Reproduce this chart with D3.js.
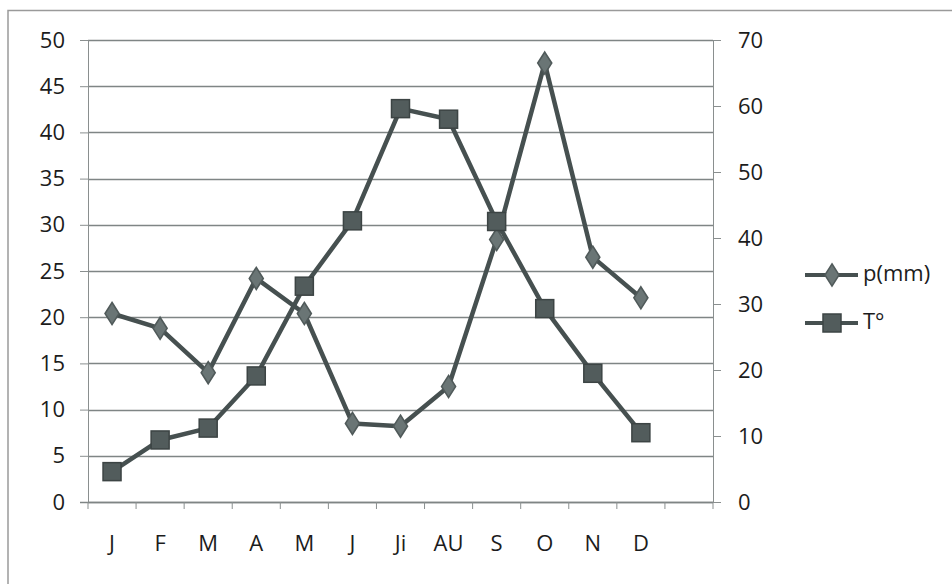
<!DOCTYPE html>
<html><head><meta charset="utf-8">
<script src="https://cdn.jsdelivr.net/npm/d3@7"></script>
<style>
html,body{margin:0;padding:0;background:#fff;}
svg{display:block;}
text{font-family:"Open Sans","Liberation Sans",sans-serif;fill:#1c1c1c;}
</style></head>
<body>
<svg id="chart" width="952" height="584"></svg>
<script>
const categories = ["J","F","M","A","M","J","Ji","AU","S","O","N","D"];
const slots = categories.map((c,i)=>i+"").concat(["12"]); // 13 slots, last empty
const precip = [20.4, 18.8, 14.0, 24.2, 20.4, 8.5, 8.2, 12.5, 28.4, 47.5, 26.5, 22.1];
const temp = [4.6, 9.4, 11.2, 19.1, 32.7, 42.6, 59.6, 58.0, 42.5, 29.3, 19.5, 10.5];
const leftTicks = [0,5,10,15,20,25,30,35,40,45,50];
const rightTicks = [0,10,20,30,40,50,60,70];
const seriesNames = ["p(mm)","T°"];

const svg = d3.select("#chart");
const L = 88, R = 713, T = 40, B = 502;
const lineCol = "#465050";
const FS = 22;

// outer border
svg.append("path").attr("d","M8,584 V10.5 H952").attr("fill","none").attr("stroke","#9a9a9a").attr("stroke-width",1.5);

const x = d3.scaleBand().domain(slots).range([L,R]);
const yL = d3.scaleLinear().domain([0,50]).range([B,T]);
const yR = d3.scaleLinear().domain([0,70]).range([B,T]);

// gridlines
svg.append("g").selectAll("line").data(leftTicks).join("line")
  .attr("x1",L).attr("x2",R).attr("y1",d=>Math.round(yL(d))+0.5).attr("y2",d=>Math.round(yL(d))+0.5)
  .attr("stroke","#7f8585").attr("stroke-width",1.3);

// left axis
const gl = svg.append("g").attr("transform",`translate(${L},0)`)
  .call(d3.axisLeft(yL).tickValues(leftTicks).tickSize(8).tickPadding(15));
gl.select(".domain").attr("stroke","#8a8f8f");
gl.selectAll(".tick line").attr("stroke","#8a8f8f");
gl.selectAll("text").attr("font-size",FS).attr("fill","#1c1c1c").style("font-family","'Open Sans'");

// right axis
const gr = svg.append("g").attr("transform",`translate(${R},0)`)
  .call(d3.axisRight(yR).tickValues(rightTicks).tickSize(8).tickPadding(17));
gr.select(".domain").attr("stroke","#8a8f8f");
gr.selectAll(".tick line").attr("stroke","#8a8f8f");
gr.selectAll("text").attr("font-size",FS).attr("fill","#1c1c1c").style("font-family","'Open Sans'");

// bottom axis: ticks at band boundaries
const gb = svg.append("g").attr("transform",`translate(0,${B})`);
gb.append("line").attr("x1",L-8).attr("x2",R).attr("y1",0.5).attr("y2",0.5).attr("stroke","#7f8585").attr("stroke-width",1.5);
const bounds = slots.map(s=>x(s)).concat([R]);
gb.selectAll("line.t").data(bounds).join("line").attr("class","t")
  .attr("x1",d=>d).attr("x2",d=>d).attr("y1",0).attr("y2",7).attr("stroke","#8a8f8f");
gb.selectAll("text").data(categories).join("text")
  .attr("x",(d,i)=>x(slots[i])+x.bandwidth()/2).attr("y",43)
  .attr("text-anchor","middle").attr("dominant-baseline","middle")
  .attr("font-size",FS).text(d=>d);

const cx = i => x(slots[i])+x.bandwidth()/2;

// temp line (squares)
svg.append("path").datum(temp)
  .attr("d",d3.line().x((d,i)=>cx(i)).y(d=>yR(d)))
  .attr("fill","none").attr("stroke",lineCol).attr("stroke-width",4.5).attr("stroke-linejoin","round");
// precip line (diamonds)
svg.append("path").datum(precip)
  .attr("d",d3.line().x((d,i)=>cx(i)).y(d=>yL(d)))
  .attr("fill","none").attr("stroke",lineCol).attr("stroke-width",4.5).attr("stroke-linejoin","round");

const diamond = d3.symbol().type(d3.symbolDiamond).size(140);
svg.append("g").selectAll("path").data(precip).join("path")
  .attr("transform",(d,i)=>`translate(${cx(i)},${yL(d)}) scale(1.1,1)`)
  .attr("d",diamond).attr("fill","#6a7575").attr("stroke","#505a5a").attr("stroke-width",1.5);

svg.append("g").selectAll("rect").data(temp).join("rect")
  .attr("x",(d,i)=>cx(i)-9).attr("y",d=>yR(d)-9).attr("width",18).attr("height",18)
  .attr("fill","#525c5c").attr("stroke","#3c4444").attr("stroke-width",1.5);

// legend
const lg = svg.append("g");
const legY = [275, 323];
seriesNames.forEach((name,k)=>{
  const y = legY[k];
  lg.append("line").attr("x1",805).attr("x2",858).attr("y1",y).attr("y2",y).attr("stroke",lineCol).attr("stroke-width",4);
  if(k===0){
    lg.append("path").attr("transform",`translate(832,${y}) scale(1.1,1)`).attr("d",diamond).attr("fill","#6a7575").attr("stroke","#505a5a").attr("stroke-width",1.5);
  } else {
    lg.append("rect").attr("x",823).attr("y",y-9).attr("width",18).attr("height",18).attr("fill","#525c5c").attr("stroke","#3c4444").attr("stroke-width",1.5);
  }
  lg.append("text").attr("x",863).attr("y",y).attr("dominant-baseline","middle").attr("font-size",FS).text(name);
});
</script>
</body></html>
